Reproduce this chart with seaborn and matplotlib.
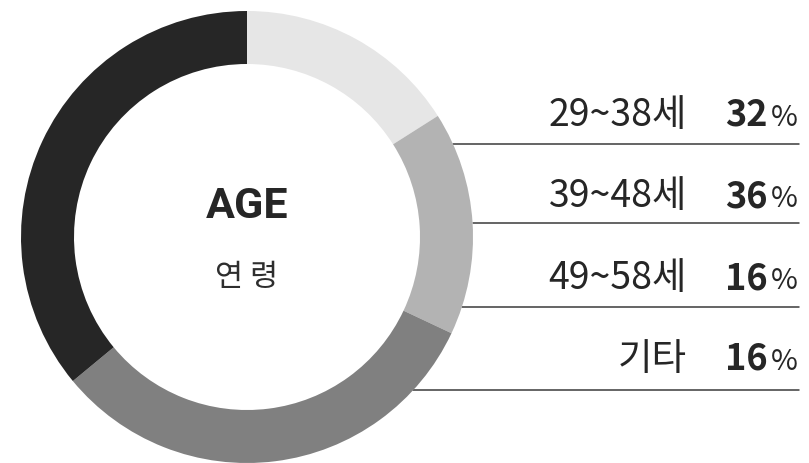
import numpy as np
import matplotlib
matplotlib.use('Agg')
import matplotlib.pyplot as plt
import seaborn as sns

# chart data
age_groups = ['29~38세', '39~48세', '49~58세', '기타']
shares = [32, 36, 16, 16]
group_colors = ['#808080', '#262626', '#e6e6e6', '#b3b3b3']
# order of the slices clockwise from 12 o'clock
pie_order = [2, 3, 0, 1]

title_en = 'AGE'
title_ko = '연 령'

sns.set_theme(style='white')
plt.rcParams['font.family'] = ['Noto Sans CJK KR', 'DejaVu Sans']

W, H = 809, 464
fig = plt.figure(figsize=(W / 100, H / 100), dpi=100)
ax = fig.add_axes([0, 0, 1, 1])

cx, cy, r_out, ring = 247, 226, 226, 53

ax.pie([shares[i] for i in pie_order],
       colors=[group_colors[i] for i in pie_order],
       startangle=90, counterclock=False,
       center=(cx, cy), radius=r_out,
       wedgeprops=dict(width=ring, linewidth=0))

ax.set_xlim(0, W)
ax.set_ylim(0, H)
ax.set_aspect('equal')
ax.axis('off')

# centre titles
ax.text(cx, 257, title_en, ha='center', va='center', fontsize=31,
        fontweight='bold', family=['Roboto', 'DejaVu Sans'], color='#262626')
ax.text(cx, 187, title_ko, ha='center', va='center', fontsize=22,
        fontweight='medium', color='#2e2e2e')

# right side list with separator lines
baselines = [338, 257, 175, 94]
line_y = [319, 240, 156, 73]
for label, share, yb, yl in zip(age_groups, shares, baselines, line_y):
    ax.text(687, yb, label, ha='right', va='baseline', fontsize=27,
            color='#262626')
    ax.text(768, yb, str(share), ha='right', va='baseline', fontsize=26,
            fontweight='bold', color='#262626')
    ax.text(798, yb, '%', ha='right', va='baseline', fontsize=21,
            color='#262626')
    x0 = cx + np.sqrt(max(r_out ** 2 - (yl - cy) ** 2, 0))
    ax.plot([x0, 799], [yl, yl], color='#3a3a3a', lw=1.1, zorder=0)

fig.savefig('out.png', dpi=100)
